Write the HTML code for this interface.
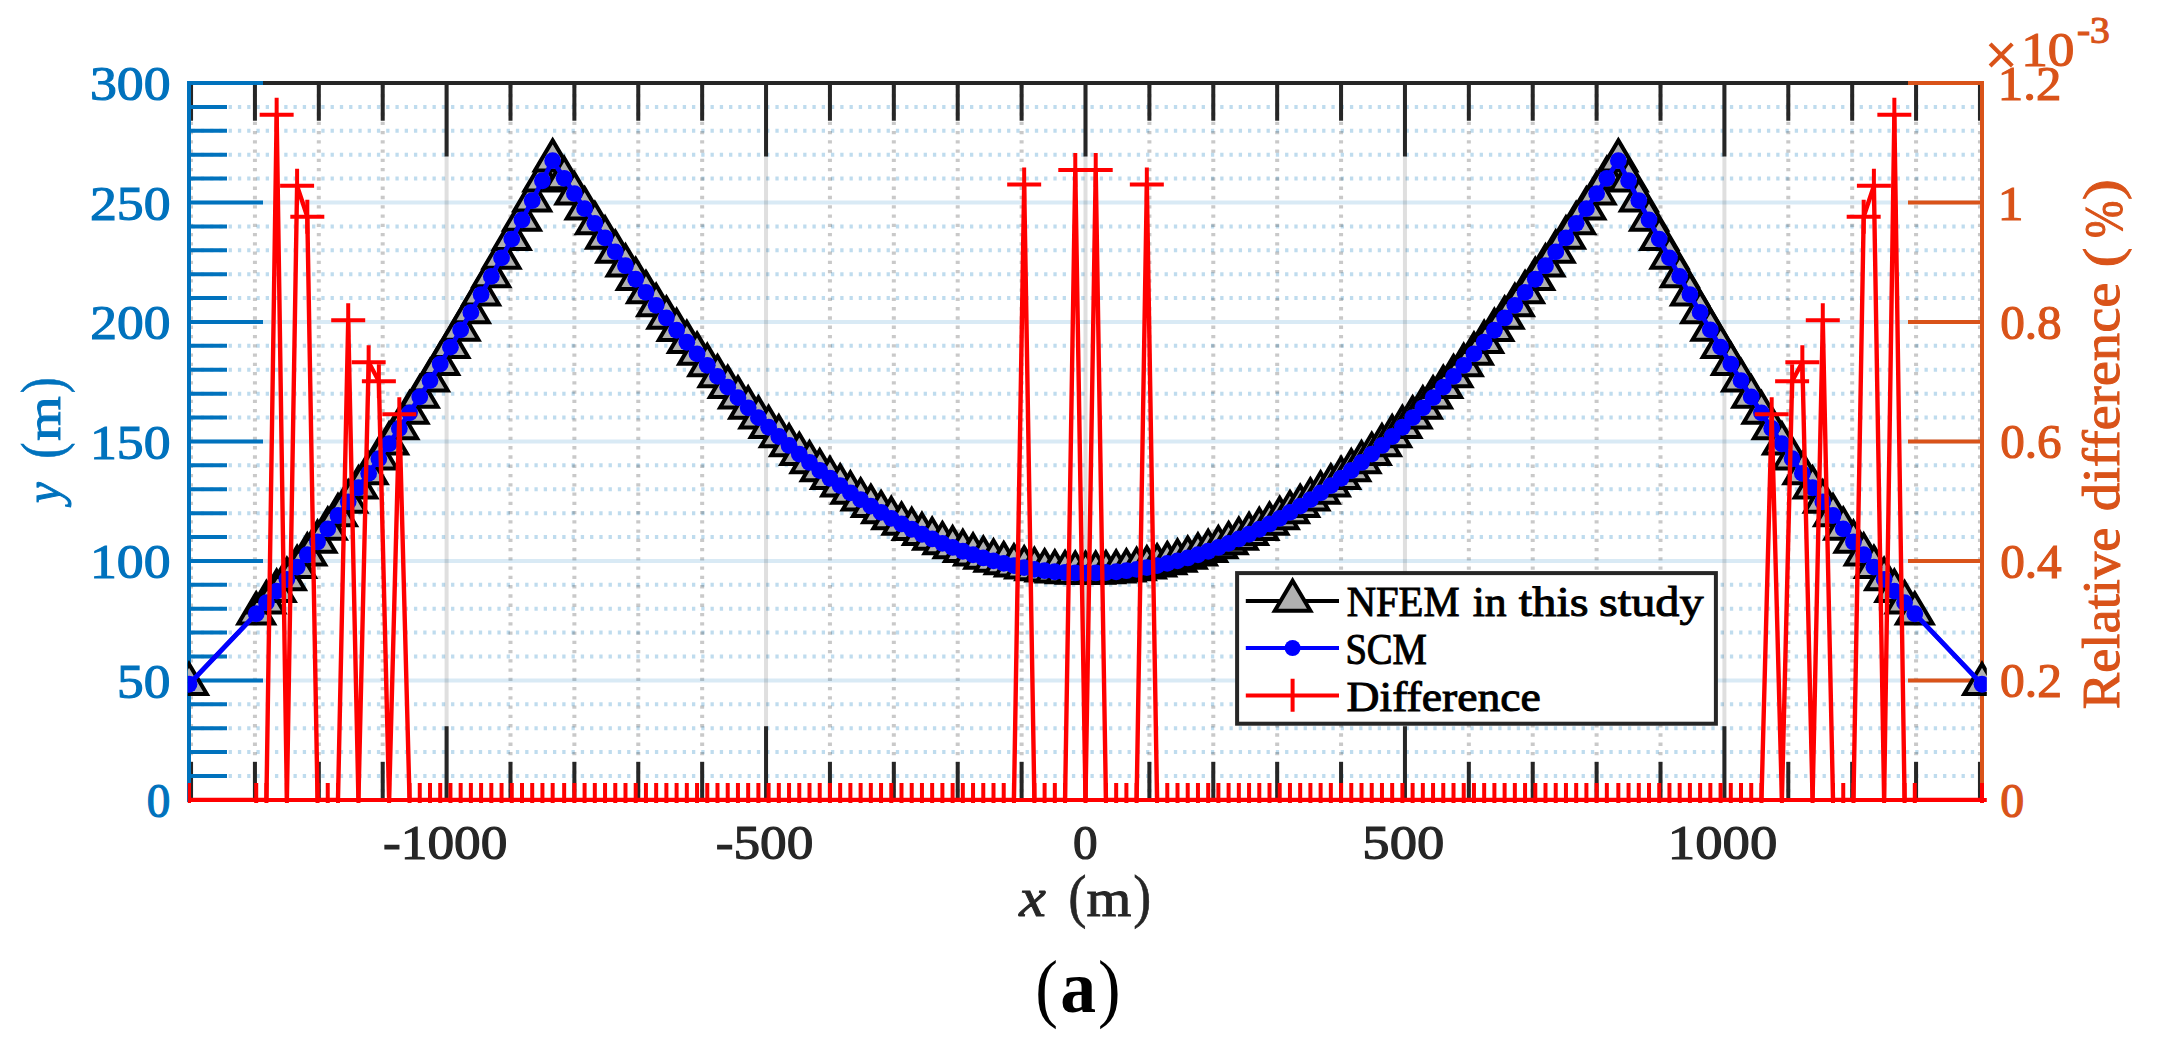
<!DOCTYPE html>
<html lang="en"><head><meta charset="utf-8"><title>Figure (a)</title>
<style>html,body{margin:0;padding:0;background:#fff}svg{display:block}</style></head>
<body>
<svg width="2157" height="1046" viewBox="0 0 2157 1046">
<rect width="2157" height="1046" fill="#fff"/>
<defs><clipPath id="cp"><rect x="187.8" y="80" width="1799" height="723"/></clipPath></defs>
<g stroke="#0072BD" stroke-opacity="0.25" stroke-width="4" stroke-dasharray="3.3 5.967" stroke-dashoffset="6.7" fill="none">
<path d="M189.0 776.00H1982.0"/>
<path d="M189.0 752.11H1982.0"/>
<path d="M189.0 728.21H1982.0"/>
<path d="M189.0 704.31H1982.0"/>
<path d="M189.0 656.52H1982.0"/>
<path d="M189.0 632.62H1982.0"/>
<path d="M189.0 608.73H1982.0"/>
<path d="M189.0 584.83H1982.0"/>
<path d="M189.0 537.04H1982.0"/>
<path d="M189.0 513.14H1982.0"/>
<path d="M189.0 489.24H1982.0"/>
<path d="M189.0 465.35H1982.0"/>
<path d="M189.0 417.55H1982.0"/>
<path d="M189.0 393.66H1982.0"/>
<path d="M189.0 369.76H1982.0"/>
<path d="M189.0 345.86H1982.0"/>
<path d="M189.0 298.07H1982.0"/>
<path d="M189.0 274.17H1982.0"/>
<path d="M189.0 250.28H1982.0"/>
<path d="M189.0 226.38H1982.0"/>
<path d="M189.0 178.59H1982.0"/>
<path d="M189.0 154.69H1982.0"/>
<path d="M189.0 130.79H1982.0"/>
<path d="M189.0 106.90H1982.0"/>
</g>
<g stroke="#262626" stroke-opacity="0.25" stroke-width="4" stroke-dasharray="3.3 5.967" stroke-dashoffset="7.6" fill="none">
<path d="M191.04 83.0V799.9"/>
<path d="M254.93 83.0V799.9"/>
<path d="M318.82 83.0V799.9"/>
<path d="M382.71 83.0V799.9"/>
<path d="M510.49 83.0V799.9"/>
<path d="M574.38 83.0V799.9"/>
<path d="M638.27 83.0V799.9"/>
<path d="M702.16 83.0V799.9"/>
<path d="M829.94 83.0V799.9"/>
<path d="M893.83 83.0V799.9"/>
<path d="M957.72 83.0V799.9"/>
<path d="M1021.61 83.0V799.9"/>
<path d="M1149.39 83.0V799.9"/>
<path d="M1213.28 83.0V799.9"/>
<path d="M1277.17 83.0V799.9"/>
<path d="M1341.06 83.0V799.9"/>
<path d="M1468.84 83.0V799.9"/>
<path d="M1532.73 83.0V799.9"/>
<path d="M1596.62 83.0V799.9"/>
<path d="M1660.51 83.0V799.9"/>
<path d="M1788.29 83.0V799.9"/>
<path d="M1852.18 83.0V799.9"/>
<path d="M1916.07 83.0V799.9"/>
<path d="M1979.96 83.0V799.9"/>
</g>
<g stroke="#0072BD" stroke-opacity="0.15" stroke-width="4" fill="none">
<path d="M189.0 680.42H1982.0"/>
<path d="M189.0 560.93H1982.0"/>
<path d="M189.0 441.45H1982.0"/>
<path d="M189.0 321.97H1982.0"/>
<path d="M189.0 202.48H1982.0"/>
</g>
<g stroke="#262626" stroke-opacity="0.15" stroke-width="4" fill="none">
<path d="M446.60 83.0V799.9"/>
<path d="M766.05 83.0V799.9"/>
<path d="M1085.50 83.0V799.9"/>
<path d="M1404.95 83.0V799.9"/>
<path d="M1724.40 83.0V799.9"/>
</g>
<g stroke="#262626" stroke-width="4" fill="none">
<path d="M191.04 83.0v37.8M191.04 799.9v-37.8"/>
<path d="M254.93 83.0v37.8M254.93 799.9v-37.8"/>
<path d="M318.82 83.0v37.8M318.82 799.9v-37.8"/>
<path d="M382.71 83.0v37.8M382.71 799.9v-37.8"/>
<path d="M446.60 83.0v73.6M446.60 799.9v-73.6"/>
<path d="M510.49 83.0v37.8M510.49 799.9v-37.8"/>
<path d="M574.38 83.0v37.8M574.38 799.9v-37.8"/>
<path d="M638.27 83.0v37.8M638.27 799.9v-37.8"/>
<path d="M702.16 83.0v37.8M702.16 799.9v-37.8"/>
<path d="M766.05 83.0v73.6M766.05 799.9v-73.6"/>
<path d="M829.94 83.0v37.8M829.94 799.9v-37.8"/>
<path d="M893.83 83.0v37.8M893.83 799.9v-37.8"/>
<path d="M957.72 83.0v37.8M957.72 799.9v-37.8"/>
<path d="M1021.61 83.0v37.8M1021.61 799.9v-37.8"/>
<path d="M1085.50 83.0v73.6M1085.50 799.9v-73.6"/>
<path d="M1149.39 83.0v37.8M1149.39 799.9v-37.8"/>
<path d="M1213.28 83.0v37.8M1213.28 799.9v-37.8"/>
<path d="M1277.17 83.0v37.8M1277.17 799.9v-37.8"/>
<path d="M1341.06 83.0v37.8M1341.06 799.9v-37.8"/>
<path d="M1404.95 83.0v73.6M1404.95 799.9v-73.6"/>
<path d="M1468.84 83.0v37.8M1468.84 799.9v-37.8"/>
<path d="M1532.73 83.0v37.8M1532.73 799.9v-37.8"/>
<path d="M1596.62 83.0v37.8M1596.62 799.9v-37.8"/>
<path d="M1660.51 83.0v37.8M1660.51 799.9v-37.8"/>
<path d="M1724.40 83.0v73.6M1724.40 799.9v-73.6"/>
<path d="M1788.29 83.0v37.8M1788.29 799.9v-37.8"/>
<path d="M1852.18 83.0v37.8M1852.18 799.9v-37.8"/>
<path d="M1916.07 83.0v37.8M1916.07 799.9v-37.8"/>
<path d="M1979.96 83.0v37.8M1979.96 799.9v-37.8"/>
<path d="M187.0 83.0H1984.0M187.0 799.9H1984.0"/>
</g>
<g stroke="#0072BD" stroke-width="4" fill="none">
<path d="M189.0 799.90h74"/>
<path d="M189.0 776.00h38"/>
<path d="M189.0 752.11h38"/>
<path d="M189.0 728.21h38"/>
<path d="M189.0 704.31h38"/>
<path d="M189.0 680.42h74"/>
<path d="M189.0 656.52h38"/>
<path d="M189.0 632.62h38"/>
<path d="M189.0 608.73h38"/>
<path d="M189.0 584.83h38"/>
<path d="M189.0 560.93h74"/>
<path d="M189.0 537.04h38"/>
<path d="M189.0 513.14h38"/>
<path d="M189.0 489.24h38"/>
<path d="M189.0 465.35h38"/>
<path d="M189.0 441.45h74"/>
<path d="M189.0 417.55h38"/>
<path d="M189.0 393.66h38"/>
<path d="M189.0 369.76h38"/>
<path d="M189.0 345.86h38"/>
<path d="M189.0 321.97h74"/>
<path d="M189.0 298.07h38"/>
<path d="M189.0 274.17h38"/>
<path d="M189.0 250.28h38"/>
<path d="M189.0 226.38h38"/>
<path d="M189.0 202.48h74"/>
<path d="M189.0 178.59h38"/>
<path d="M189.0 154.69h38"/>
<path d="M189.0 130.79h38"/>
<path d="M189.0 106.90h38"/>
<path d="M189.0 83.00h74"/>
<path d="M189.0 81.0V801.9"/>
</g>
<g stroke="#D95319" stroke-width="4" fill="none">
<path d="M1982.0 799.90h-74"/>
<path d="M1982.0 680.42h-74"/>
<path d="M1982.0 560.93h-74"/>
<path d="M1982.0 441.45h-74"/>
<path d="M1982.0 321.97h-74"/>
<path d="M1982.0 202.48h-74"/>
<path d="M1982.0 83.00h-74"/>
<path d="M1982.0 81.0V801.9"/>
</g>
<g clip-path="url(#cp)">
<path fill="none" stroke="#000" stroke-width="4" stroke-linejoin="round" d="M189.00 684.24L256.21 613.74L266.43 602.58L276.65 591.09L286.88 579.29L297.10 567.17L307.32 554.73L317.54 541.97L327.76 528.89L337.99 515.50L348.21 501.78L358.43 487.75L368.65 473.40L378.88 458.73L389.10 443.75L399.32 428.44L409.54 412.82L419.77 396.88L429.99 380.62L440.21 364.04L450.43 347.15L460.66 329.93L470.88 312.40L481.10 294.55L491.32 276.38L501.55 257.90L511.77 239.09L521.99 219.97L532.21 200.53L542.43 180.77L552.66 160.66L564.16 178.28L574.38 193.61L584.60 208.64L594.82 223.36L605.05 237.78L615.27 251.90L625.49 265.72L635.71 279.23L645.94 292.43L656.16 305.34L666.38 317.94L676.60 330.23L686.83 342.23L697.05 353.91L707.27 365.30L717.49 376.38L727.72 387.16L737.94 397.63L748.16 407.81L758.38 417.67L768.61 427.24L778.83 436.50L789.05 445.45L799.27 454.11L809.50 462.45L819.72 470.50L829.94 478.24L840.16 485.68L850.38 492.82L860.61 499.65L870.83 506.17L881.05 512.40L891.27 518.32L901.50 523.94L911.72 529.25L921.94 534.26L932.16 538.96L942.39 543.37L952.61 547.47L962.83 551.26L973.05 554.75L983.28 557.94L993.50 560.82L1003.72 563.41L1013.94 565.68L1024.17 567.66L1034.39 569.33L1044.61 570.69L1054.83 571.75L1065.06 572.51L1075.28 572.97L1085.50 573.12L1095.72 572.97L1105.94 572.51L1116.17 571.75L1126.39 570.69L1136.61 569.33L1146.83 567.66L1157.06 565.68L1167.28 563.41L1177.50 560.82L1187.72 557.94L1197.95 554.75L1208.17 551.26L1218.39 547.47L1228.61 543.37L1238.84 538.96L1249.06 534.26L1259.28 529.25L1269.50 523.94L1279.73 518.32L1289.95 512.40L1300.17 506.17L1310.39 499.65L1320.62 492.82L1330.84 485.68L1341.06 478.24L1351.28 470.50L1361.50 462.45L1371.73 454.11L1381.95 445.45L1392.17 436.50L1402.39 427.24L1412.62 417.67L1422.84 407.81L1433.06 397.63L1443.28 387.16L1453.51 376.38L1463.73 365.30L1473.95 353.91L1484.17 342.23L1494.40 330.23L1504.62 317.94L1514.84 305.34L1525.06 292.43L1535.29 279.23L1545.51 265.72L1555.73 251.90L1565.95 237.78L1576.18 223.36L1586.40 208.64L1596.62 193.61L1606.84 178.28L1618.34 160.66L1628.57 180.77L1638.79 200.53L1649.01 219.97L1659.23 239.09L1669.45 257.90L1679.68 276.38L1689.90 294.55L1700.12 312.40L1710.34 329.93L1720.57 347.15L1730.79 364.04L1741.01 380.62L1751.23 396.88L1761.46 412.82L1771.68 428.44L1781.90 443.75L1792.12 458.73L1802.35 473.40L1812.57 487.75L1822.79 501.78L1833.01 515.50L1843.24 528.89L1853.46 541.97L1863.68 554.73L1873.90 567.17L1884.12 579.29L1894.35 591.09L1904.57 602.58L1914.79 613.74L1982.00 684.24"/>
<defs><path id="tri" d="M0 -20.3L17.8 9.85H-17.8Z" fill="#B0B0B0" stroke="#000" stroke-width="4" stroke-linejoin="miter"/>
<path id="pl" d="M-17 0H17M0 -17V17" stroke="#f00" stroke-width="4" fill="none"/></defs>
<use href="#tri" x="189.00" y="684.24"/>
<use href="#tri" x="256.21" y="613.74"/>
<use href="#tri" x="266.43" y="602.58"/>
<use href="#tri" x="276.65" y="591.09"/>
<use href="#tri" x="286.88" y="579.29"/>
<use href="#tri" x="297.10" y="567.17"/>
<use href="#tri" x="307.32" y="554.73"/>
<use href="#tri" x="317.54" y="541.97"/>
<use href="#tri" x="327.76" y="528.89"/>
<use href="#tri" x="337.99" y="515.50"/>
<use href="#tri" x="348.21" y="501.78"/>
<use href="#tri" x="358.43" y="487.75"/>
<use href="#tri" x="368.65" y="473.40"/>
<use href="#tri" x="378.88" y="458.73"/>
<use href="#tri" x="389.10" y="443.75"/>
<use href="#tri" x="399.32" y="428.44"/>
<use href="#tri" x="409.54" y="412.82"/>
<use href="#tri" x="419.77" y="396.88"/>
<use href="#tri" x="429.99" y="380.62"/>
<use href="#tri" x="440.21" y="364.04"/>
<use href="#tri" x="450.43" y="347.15"/>
<use href="#tri" x="460.66" y="329.93"/>
<use href="#tri" x="470.88" y="312.40"/>
<use href="#tri" x="481.10" y="294.55"/>
<use href="#tri" x="491.32" y="276.38"/>
<use href="#tri" x="501.55" y="257.90"/>
<use href="#tri" x="511.77" y="239.09"/>
<use href="#tri" x="521.99" y="219.97"/>
<use href="#tri" x="532.21" y="200.53"/>
<use href="#tri" x="542.43" y="180.77"/>
<use href="#tri" x="552.66" y="160.66"/>
<use href="#tri" x="564.16" y="178.28"/>
<use href="#tri" x="574.38" y="193.61"/>
<use href="#tri" x="584.60" y="208.64"/>
<use href="#tri" x="594.82" y="223.36"/>
<use href="#tri" x="605.05" y="237.78"/>
<use href="#tri" x="615.27" y="251.90"/>
<use href="#tri" x="625.49" y="265.72"/>
<use href="#tri" x="635.71" y="279.23"/>
<use href="#tri" x="645.94" y="292.43"/>
<use href="#tri" x="656.16" y="305.34"/>
<use href="#tri" x="666.38" y="317.94"/>
<use href="#tri" x="676.60" y="330.23"/>
<use href="#tri" x="686.83" y="342.23"/>
<use href="#tri" x="697.05" y="353.91"/>
<use href="#tri" x="707.27" y="365.30"/>
<use href="#tri" x="717.49" y="376.38"/>
<use href="#tri" x="727.72" y="387.16"/>
<use href="#tri" x="737.94" y="397.63"/>
<use href="#tri" x="748.16" y="407.81"/>
<use href="#tri" x="758.38" y="417.67"/>
<use href="#tri" x="768.61" y="427.24"/>
<use href="#tri" x="778.83" y="436.50"/>
<use href="#tri" x="789.05" y="445.45"/>
<use href="#tri" x="799.27" y="454.11"/>
<use href="#tri" x="809.50" y="462.45"/>
<use href="#tri" x="819.72" y="470.50"/>
<use href="#tri" x="829.94" y="478.24"/>
<use href="#tri" x="840.16" y="485.68"/>
<use href="#tri" x="850.38" y="492.82"/>
<use href="#tri" x="860.61" y="499.65"/>
<use href="#tri" x="870.83" y="506.17"/>
<use href="#tri" x="881.05" y="512.40"/>
<use href="#tri" x="891.27" y="518.32"/>
<use href="#tri" x="901.50" y="523.94"/>
<use href="#tri" x="911.72" y="529.25"/>
<use href="#tri" x="921.94" y="534.26"/>
<use href="#tri" x="932.16" y="538.96"/>
<use href="#tri" x="942.39" y="543.37"/>
<use href="#tri" x="952.61" y="547.47"/>
<use href="#tri" x="962.83" y="551.26"/>
<use href="#tri" x="973.05" y="554.75"/>
<use href="#tri" x="983.28" y="557.94"/>
<use href="#tri" x="993.50" y="560.82"/>
<use href="#tri" x="1003.72" y="563.41"/>
<use href="#tri" x="1013.94" y="565.68"/>
<use href="#tri" x="1024.17" y="567.66"/>
<use href="#tri" x="1034.39" y="569.33"/>
<use href="#tri" x="1044.61" y="570.69"/>
<use href="#tri" x="1054.83" y="571.75"/>
<use href="#tri" x="1065.06" y="572.51"/>
<use href="#tri" x="1075.28" y="572.97"/>
<use href="#tri" x="1085.50" y="573.12"/>
<use href="#tri" x="1095.72" y="572.97"/>
<use href="#tri" x="1105.94" y="572.51"/>
<use href="#tri" x="1116.17" y="571.75"/>
<use href="#tri" x="1126.39" y="570.69"/>
<use href="#tri" x="1136.61" y="569.33"/>
<use href="#tri" x="1146.83" y="567.66"/>
<use href="#tri" x="1157.06" y="565.68"/>
<use href="#tri" x="1167.28" y="563.41"/>
<use href="#tri" x="1177.50" y="560.82"/>
<use href="#tri" x="1187.72" y="557.94"/>
<use href="#tri" x="1197.95" y="554.75"/>
<use href="#tri" x="1208.17" y="551.26"/>
<use href="#tri" x="1218.39" y="547.47"/>
<use href="#tri" x="1228.61" y="543.37"/>
<use href="#tri" x="1238.84" y="538.96"/>
<use href="#tri" x="1249.06" y="534.26"/>
<use href="#tri" x="1259.28" y="529.25"/>
<use href="#tri" x="1269.50" y="523.94"/>
<use href="#tri" x="1279.73" y="518.32"/>
<use href="#tri" x="1289.95" y="512.40"/>
<use href="#tri" x="1300.17" y="506.17"/>
<use href="#tri" x="1310.39" y="499.65"/>
<use href="#tri" x="1320.62" y="492.82"/>
<use href="#tri" x="1330.84" y="485.68"/>
<use href="#tri" x="1341.06" y="478.24"/>
<use href="#tri" x="1351.28" y="470.50"/>
<use href="#tri" x="1361.50" y="462.45"/>
<use href="#tri" x="1371.73" y="454.11"/>
<use href="#tri" x="1381.95" y="445.45"/>
<use href="#tri" x="1392.17" y="436.50"/>
<use href="#tri" x="1402.39" y="427.24"/>
<use href="#tri" x="1412.62" y="417.67"/>
<use href="#tri" x="1422.84" y="407.81"/>
<use href="#tri" x="1433.06" y="397.63"/>
<use href="#tri" x="1443.28" y="387.16"/>
<use href="#tri" x="1453.51" y="376.38"/>
<use href="#tri" x="1463.73" y="365.30"/>
<use href="#tri" x="1473.95" y="353.91"/>
<use href="#tri" x="1484.17" y="342.23"/>
<use href="#tri" x="1494.40" y="330.23"/>
<use href="#tri" x="1504.62" y="317.94"/>
<use href="#tri" x="1514.84" y="305.34"/>
<use href="#tri" x="1525.06" y="292.43"/>
<use href="#tri" x="1535.29" y="279.23"/>
<use href="#tri" x="1545.51" y="265.72"/>
<use href="#tri" x="1555.73" y="251.90"/>
<use href="#tri" x="1565.95" y="237.78"/>
<use href="#tri" x="1576.18" y="223.36"/>
<use href="#tri" x="1586.40" y="208.64"/>
<use href="#tri" x="1596.62" y="193.61"/>
<use href="#tri" x="1606.84" y="178.28"/>
<use href="#tri" x="1618.34" y="160.66"/>
<use href="#tri" x="1628.57" y="180.77"/>
<use href="#tri" x="1638.79" y="200.53"/>
<use href="#tri" x="1649.01" y="219.97"/>
<use href="#tri" x="1659.23" y="239.09"/>
<use href="#tri" x="1669.45" y="257.90"/>
<use href="#tri" x="1679.68" y="276.38"/>
<use href="#tri" x="1689.90" y="294.55"/>
<use href="#tri" x="1700.12" y="312.40"/>
<use href="#tri" x="1710.34" y="329.93"/>
<use href="#tri" x="1720.57" y="347.15"/>
<use href="#tri" x="1730.79" y="364.04"/>
<use href="#tri" x="1741.01" y="380.62"/>
<use href="#tri" x="1751.23" y="396.88"/>
<use href="#tri" x="1761.46" y="412.82"/>
<use href="#tri" x="1771.68" y="428.44"/>
<use href="#tri" x="1781.90" y="443.75"/>
<use href="#tri" x="1792.12" y="458.73"/>
<use href="#tri" x="1802.35" y="473.40"/>
<use href="#tri" x="1812.57" y="487.75"/>
<use href="#tri" x="1822.79" y="501.78"/>
<use href="#tri" x="1833.01" y="515.50"/>
<use href="#tri" x="1843.24" y="528.89"/>
<use href="#tri" x="1853.46" y="541.97"/>
<use href="#tri" x="1863.68" y="554.73"/>
<use href="#tri" x="1873.90" y="567.17"/>
<use href="#tri" x="1884.12" y="579.29"/>
<use href="#tri" x="1894.35" y="591.09"/>
<use href="#tri" x="1904.57" y="602.58"/>
<use href="#tri" x="1914.79" y="613.74"/>
<use href="#tri" x="1982.00" y="684.24"/>
<path fill="none" stroke="#00f" stroke-width="4.8" stroke-linejoin="round" d="M189.00 684.24L256.21 613.74L266.43 602.58L276.65 591.09L286.88 579.29L297.10 567.17L307.32 554.73L317.54 541.97L327.76 528.89L337.99 515.50L348.21 501.78L358.43 487.75L368.65 473.40L378.88 458.73L389.10 443.75L399.32 428.44L409.54 412.82L419.77 396.88L429.99 380.62L440.21 364.04L450.43 347.15L460.66 329.93L470.88 312.40L481.10 294.55L491.32 276.38L501.55 257.90L511.77 239.09L521.99 219.97L532.21 200.53L542.43 180.77L552.66 160.66L564.16 178.28L574.38 193.61L584.60 208.64L594.82 223.36L605.05 237.78L615.27 251.90L625.49 265.72L635.71 279.23L645.94 292.43L656.16 305.34L666.38 317.94L676.60 330.23L686.83 342.23L697.05 353.91L707.27 365.30L717.49 376.38L727.72 387.16L737.94 397.63L748.16 407.81L758.38 417.67L768.61 427.24L778.83 436.50L789.05 445.45L799.27 454.11L809.50 462.45L819.72 470.50L829.94 478.24L840.16 485.68L850.38 492.82L860.61 499.65L870.83 506.17L881.05 512.40L891.27 518.32L901.50 523.94L911.72 529.25L921.94 534.26L932.16 538.96L942.39 543.37L952.61 547.47L962.83 551.26L973.05 554.75L983.28 557.94L993.50 560.82L1003.72 563.41L1013.94 565.68L1024.17 567.66L1034.39 569.33L1044.61 570.69L1054.83 571.75L1065.06 572.51L1075.28 572.97L1085.50 573.12L1095.72 572.97L1105.94 572.51L1116.17 571.75L1126.39 570.69L1136.61 569.33L1146.83 567.66L1157.06 565.68L1167.28 563.41L1177.50 560.82L1187.72 557.94L1197.95 554.75L1208.17 551.26L1218.39 547.47L1228.61 543.37L1238.84 538.96L1249.06 534.26L1259.28 529.25L1269.50 523.94L1279.73 518.32L1289.95 512.40L1300.17 506.17L1310.39 499.65L1320.62 492.82L1330.84 485.68L1341.06 478.24L1351.28 470.50L1361.50 462.45L1371.73 454.11L1381.95 445.45L1392.17 436.50L1402.39 427.24L1412.62 417.67L1422.84 407.81L1433.06 397.63L1443.28 387.16L1453.51 376.38L1463.73 365.30L1473.95 353.91L1484.17 342.23L1494.40 330.23L1504.62 317.94L1514.84 305.34L1525.06 292.43L1535.29 279.23L1545.51 265.72L1555.73 251.90L1565.95 237.78L1576.18 223.36L1586.40 208.64L1596.62 193.61L1606.84 178.28L1618.34 160.66L1628.57 180.77L1638.79 200.53L1649.01 219.97L1659.23 239.09L1669.45 257.90L1679.68 276.38L1689.90 294.55L1700.12 312.40L1710.34 329.93L1720.57 347.15L1730.79 364.04L1741.01 380.62L1751.23 396.88L1761.46 412.82L1771.68 428.44L1781.90 443.75L1792.12 458.73L1802.35 473.40L1812.57 487.75L1822.79 501.78L1833.01 515.50L1843.24 528.89L1853.46 541.97L1863.68 554.73L1873.90 567.17L1884.12 579.29L1894.35 591.09L1904.57 602.58L1914.79 613.74L1982.00 684.24"/>
<g fill="#00f">
<circle cx="189.00" cy="684.24" r="8.4"/>
<circle cx="256.21" cy="613.74" r="8.4"/>
<circle cx="266.43" cy="602.58" r="8.4"/>
<circle cx="276.65" cy="591.09" r="8.4"/>
<circle cx="286.88" cy="579.29" r="8.4"/>
<circle cx="297.10" cy="567.17" r="8.4"/>
<circle cx="307.32" cy="554.73" r="8.4"/>
<circle cx="317.54" cy="541.97" r="8.4"/>
<circle cx="327.76" cy="528.89" r="8.4"/>
<circle cx="337.99" cy="515.50" r="8.4"/>
<circle cx="348.21" cy="501.78" r="8.4"/>
<circle cx="358.43" cy="487.75" r="8.4"/>
<circle cx="368.65" cy="473.40" r="8.4"/>
<circle cx="378.88" cy="458.73" r="8.4"/>
<circle cx="389.10" cy="443.75" r="8.4"/>
<circle cx="399.32" cy="428.44" r="8.4"/>
<circle cx="409.54" cy="412.82" r="8.4"/>
<circle cx="419.77" cy="396.88" r="8.4"/>
<circle cx="429.99" cy="380.62" r="8.4"/>
<circle cx="440.21" cy="364.04" r="8.4"/>
<circle cx="450.43" cy="347.15" r="8.4"/>
<circle cx="460.66" cy="329.93" r="8.4"/>
<circle cx="470.88" cy="312.40" r="8.4"/>
<circle cx="481.10" cy="294.55" r="8.4"/>
<circle cx="491.32" cy="276.38" r="8.4"/>
<circle cx="501.55" cy="257.90" r="8.4"/>
<circle cx="511.77" cy="239.09" r="8.4"/>
<circle cx="521.99" cy="219.97" r="8.4"/>
<circle cx="532.21" cy="200.53" r="8.4"/>
<circle cx="542.43" cy="180.77" r="8.4"/>
<circle cx="552.66" cy="160.66" r="8.4"/>
<circle cx="564.16" cy="178.28" r="8.4"/>
<circle cx="574.38" cy="193.61" r="8.4"/>
<circle cx="584.60" cy="208.64" r="8.4"/>
<circle cx="594.82" cy="223.36" r="8.4"/>
<circle cx="605.05" cy="237.78" r="8.4"/>
<circle cx="615.27" cy="251.90" r="8.4"/>
<circle cx="625.49" cy="265.72" r="8.4"/>
<circle cx="635.71" cy="279.23" r="8.4"/>
<circle cx="645.94" cy="292.43" r="8.4"/>
<circle cx="656.16" cy="305.34" r="8.4"/>
<circle cx="666.38" cy="317.94" r="8.4"/>
<circle cx="676.60" cy="330.23" r="8.4"/>
<circle cx="686.83" cy="342.23" r="8.4"/>
<circle cx="697.05" cy="353.91" r="8.4"/>
<circle cx="707.27" cy="365.30" r="8.4"/>
<circle cx="717.49" cy="376.38" r="8.4"/>
<circle cx="727.72" cy="387.16" r="8.4"/>
<circle cx="737.94" cy="397.63" r="8.4"/>
<circle cx="748.16" cy="407.81" r="8.4"/>
<circle cx="758.38" cy="417.67" r="8.4"/>
<circle cx="768.61" cy="427.24" r="8.4"/>
<circle cx="778.83" cy="436.50" r="8.4"/>
<circle cx="789.05" cy="445.45" r="8.4"/>
<circle cx="799.27" cy="454.11" r="8.4"/>
<circle cx="809.50" cy="462.45" r="8.4"/>
<circle cx="819.72" cy="470.50" r="8.4"/>
<circle cx="829.94" cy="478.24" r="8.4"/>
<circle cx="840.16" cy="485.68" r="8.4"/>
<circle cx="850.38" cy="492.82" r="8.4"/>
<circle cx="860.61" cy="499.65" r="8.4"/>
<circle cx="870.83" cy="506.17" r="8.4"/>
<circle cx="881.05" cy="512.40" r="8.4"/>
<circle cx="891.27" cy="518.32" r="8.4"/>
<circle cx="901.50" cy="523.94" r="8.4"/>
<circle cx="911.72" cy="529.25" r="8.4"/>
<circle cx="921.94" cy="534.26" r="8.4"/>
<circle cx="932.16" cy="538.96" r="8.4"/>
<circle cx="942.39" cy="543.37" r="8.4"/>
<circle cx="952.61" cy="547.47" r="8.4"/>
<circle cx="962.83" cy="551.26" r="8.4"/>
<circle cx="973.05" cy="554.75" r="8.4"/>
<circle cx="983.28" cy="557.94" r="8.4"/>
<circle cx="993.50" cy="560.82" r="8.4"/>
<circle cx="1003.72" cy="563.41" r="8.4"/>
<circle cx="1013.94" cy="565.68" r="8.4"/>
<circle cx="1024.17" cy="567.66" r="8.4"/>
<circle cx="1034.39" cy="569.33" r="8.4"/>
<circle cx="1044.61" cy="570.69" r="8.4"/>
<circle cx="1054.83" cy="571.75" r="8.4"/>
<circle cx="1065.06" cy="572.51" r="8.4"/>
<circle cx="1075.28" cy="572.97" r="8.4"/>
<circle cx="1085.50" cy="573.12" r="8.4"/>
<circle cx="1095.72" cy="572.97" r="8.4"/>
<circle cx="1105.94" cy="572.51" r="8.4"/>
<circle cx="1116.17" cy="571.75" r="8.4"/>
<circle cx="1126.39" cy="570.69" r="8.4"/>
<circle cx="1136.61" cy="569.33" r="8.4"/>
<circle cx="1146.83" cy="567.66" r="8.4"/>
<circle cx="1157.06" cy="565.68" r="8.4"/>
<circle cx="1167.28" cy="563.41" r="8.4"/>
<circle cx="1177.50" cy="560.82" r="8.4"/>
<circle cx="1187.72" cy="557.94" r="8.4"/>
<circle cx="1197.95" cy="554.75" r="8.4"/>
<circle cx="1208.17" cy="551.26" r="8.4"/>
<circle cx="1218.39" cy="547.47" r="8.4"/>
<circle cx="1228.61" cy="543.37" r="8.4"/>
<circle cx="1238.84" cy="538.96" r="8.4"/>
<circle cx="1249.06" cy="534.26" r="8.4"/>
<circle cx="1259.28" cy="529.25" r="8.4"/>
<circle cx="1269.50" cy="523.94" r="8.4"/>
<circle cx="1279.73" cy="518.32" r="8.4"/>
<circle cx="1289.95" cy="512.40" r="8.4"/>
<circle cx="1300.17" cy="506.17" r="8.4"/>
<circle cx="1310.39" cy="499.65" r="8.4"/>
<circle cx="1320.62" cy="492.82" r="8.4"/>
<circle cx="1330.84" cy="485.68" r="8.4"/>
<circle cx="1341.06" cy="478.24" r="8.4"/>
<circle cx="1351.28" cy="470.50" r="8.4"/>
<circle cx="1361.50" cy="462.45" r="8.4"/>
<circle cx="1371.73" cy="454.11" r="8.4"/>
<circle cx="1381.95" cy="445.45" r="8.4"/>
<circle cx="1392.17" cy="436.50" r="8.4"/>
<circle cx="1402.39" cy="427.24" r="8.4"/>
<circle cx="1412.62" cy="417.67" r="8.4"/>
<circle cx="1422.84" cy="407.81" r="8.4"/>
<circle cx="1433.06" cy="397.63" r="8.4"/>
<circle cx="1443.28" cy="387.16" r="8.4"/>
<circle cx="1453.51" cy="376.38" r="8.4"/>
<circle cx="1463.73" cy="365.30" r="8.4"/>
<circle cx="1473.95" cy="353.91" r="8.4"/>
<circle cx="1484.17" cy="342.23" r="8.4"/>
<circle cx="1494.40" cy="330.23" r="8.4"/>
<circle cx="1504.62" cy="317.94" r="8.4"/>
<circle cx="1514.84" cy="305.34" r="8.4"/>
<circle cx="1525.06" cy="292.43" r="8.4"/>
<circle cx="1535.29" cy="279.23" r="8.4"/>
<circle cx="1545.51" cy="265.72" r="8.4"/>
<circle cx="1555.73" cy="251.90" r="8.4"/>
<circle cx="1565.95" cy="237.78" r="8.4"/>
<circle cx="1576.18" cy="223.36" r="8.4"/>
<circle cx="1586.40" cy="208.64" r="8.4"/>
<circle cx="1596.62" cy="193.61" r="8.4"/>
<circle cx="1606.84" cy="178.28" r="8.4"/>
<circle cx="1618.34" cy="160.66" r="8.4"/>
<circle cx="1628.57" cy="180.77" r="8.4"/>
<circle cx="1638.79" cy="200.53" r="8.4"/>
<circle cx="1649.01" cy="219.97" r="8.4"/>
<circle cx="1659.23" cy="239.09" r="8.4"/>
<circle cx="1669.45" cy="257.90" r="8.4"/>
<circle cx="1679.68" cy="276.38" r="8.4"/>
<circle cx="1689.90" cy="294.55" r="8.4"/>
<circle cx="1700.12" cy="312.40" r="8.4"/>
<circle cx="1710.34" cy="329.93" r="8.4"/>
<circle cx="1720.57" cy="347.15" r="8.4"/>
<circle cx="1730.79" cy="364.04" r="8.4"/>
<circle cx="1741.01" cy="380.62" r="8.4"/>
<circle cx="1751.23" cy="396.88" r="8.4"/>
<circle cx="1761.46" cy="412.82" r="8.4"/>
<circle cx="1771.68" cy="428.44" r="8.4"/>
<circle cx="1781.90" cy="443.75" r="8.4"/>
<circle cx="1792.12" cy="458.73" r="8.4"/>
<circle cx="1802.35" cy="473.40" r="8.4"/>
<circle cx="1812.57" cy="487.75" r="8.4"/>
<circle cx="1822.79" cy="501.78" r="8.4"/>
<circle cx="1833.01" cy="515.50" r="8.4"/>
<circle cx="1843.24" cy="528.89" r="8.4"/>
<circle cx="1853.46" cy="541.97" r="8.4"/>
<circle cx="1863.68" cy="554.73" r="8.4"/>
<circle cx="1873.90" cy="567.17" r="8.4"/>
<circle cx="1884.12" cy="579.29" r="8.4"/>
<circle cx="1894.35" cy="591.09" r="8.4"/>
<circle cx="1904.57" cy="602.58" r="8.4"/>
<circle cx="1914.79" cy="613.74" r="8.4"/>
<circle cx="1982.00" cy="684.24" r="8.4"/>
</g>
<path fill="none" stroke="#f00" stroke-width="4.4" stroke-linejoin="miter" stroke-miterlimit="2" d="M189.00 799.90L256.21 799.90L266.43 799.90L276.65 114.72L286.88 799.90L297.10 185.82L307.32 216.70L317.54 799.90L327.76 799.90L337.99 799.90L348.21 320.23L358.43 799.90L368.65 362.29L378.88 381.23L389.10 799.90L399.32 414.21L409.54 799.90L419.77 799.90L429.99 799.90L440.21 799.90L450.43 799.90L460.66 799.90L470.88 799.90L481.10 799.90L491.32 799.90L501.55 799.90L511.77 799.90L521.99 799.90L532.21 799.90L542.43 799.90L552.66 799.90L564.16 799.90L574.38 799.90L584.60 799.90L594.82 799.90L605.05 799.90L615.27 799.90L625.49 799.90L635.71 799.90L645.94 799.90L656.16 799.90L666.38 799.90L676.60 799.90L686.83 799.90L697.05 799.90L707.27 799.90L717.49 799.90L727.72 799.90L737.94 799.90L748.16 799.90L758.38 799.90L768.61 799.90L778.83 799.90L789.05 799.90L799.27 799.90L809.50 799.90L819.72 799.90L829.94 799.90L840.16 799.90L850.38 799.90L860.61 799.90L870.83 799.90L881.05 799.90L891.27 799.90L901.50 799.90L911.72 799.90L921.94 799.90L932.16 799.90L942.39 799.90L952.61 799.90L962.83 799.90L973.05 799.90L983.28 799.90L993.50 799.90L1003.72 799.90L1013.94 799.90L1024.17 184.50L1034.39 799.90L1044.61 799.90L1054.83 799.90L1065.06 799.90L1075.28 169.98L1085.50 799.90L1095.72 169.98L1105.94 799.90L1116.17 799.90L1126.39 799.90L1136.61 799.90L1146.83 184.50L1157.06 799.90L1167.28 799.90L1177.50 799.90L1187.72 799.90L1197.95 799.90L1208.17 799.90L1218.39 799.90L1228.61 799.90L1238.84 799.90L1249.06 799.90L1259.28 799.90L1269.50 799.90L1279.73 799.90L1289.95 799.90L1300.17 799.90L1310.39 799.90L1320.62 799.90L1330.84 799.90L1341.06 799.90L1351.28 799.90L1361.50 799.90L1371.73 799.90L1381.95 799.90L1392.17 799.90L1402.39 799.90L1412.62 799.90L1422.84 799.90L1433.06 799.90L1443.28 799.90L1453.51 799.90L1463.73 799.90L1473.95 799.90L1484.17 799.90L1494.40 799.90L1504.62 799.90L1514.84 799.90L1525.06 799.90L1535.29 799.90L1545.51 799.90L1555.73 799.90L1565.95 799.90L1576.18 799.90L1586.40 799.90L1596.62 799.90L1606.84 799.90L1618.34 799.90L1628.57 799.90L1638.79 799.90L1649.01 799.90L1659.23 799.90L1669.45 799.90L1679.68 799.90L1689.90 799.90L1700.12 799.90L1710.34 799.90L1720.57 799.90L1730.79 799.90L1741.01 799.90L1751.23 799.90L1761.46 799.90L1771.68 414.21L1781.90 799.90L1792.12 381.23L1802.35 362.29L1812.57 799.90L1822.79 320.23L1833.01 799.90L1843.24 799.90L1853.46 799.90L1863.68 216.70L1873.90 185.82L1884.12 799.90L1894.35 114.72L1904.57 799.90L1914.79 799.90L1982.00 799.90"/>
<use href="#pl" x="189.00" y="799.90"/>
<use href="#pl" x="256.21" y="799.90"/>
<use href="#pl" x="266.43" y="799.90"/>
<use href="#pl" x="276.65" y="114.72"/>
<use href="#pl" x="286.88" y="799.90"/>
<use href="#pl" x="297.10" y="185.82"/>
<use href="#pl" x="307.32" y="216.70"/>
<use href="#pl" x="317.54" y="799.90"/>
<use href="#pl" x="327.76" y="799.90"/>
<use href="#pl" x="337.99" y="799.90"/>
<use href="#pl" x="348.21" y="320.23"/>
<use href="#pl" x="358.43" y="799.90"/>
<use href="#pl" x="368.65" y="362.29"/>
<use href="#pl" x="378.88" y="381.23"/>
<use href="#pl" x="389.10" y="799.90"/>
<use href="#pl" x="399.32" y="414.21"/>
<use href="#pl" x="409.54" y="799.90"/>
<use href="#pl" x="419.77" y="799.90"/>
<use href="#pl" x="429.99" y="799.90"/>
<use href="#pl" x="440.21" y="799.90"/>
<use href="#pl" x="450.43" y="799.90"/>
<use href="#pl" x="460.66" y="799.90"/>
<use href="#pl" x="470.88" y="799.90"/>
<use href="#pl" x="481.10" y="799.90"/>
<use href="#pl" x="491.32" y="799.90"/>
<use href="#pl" x="501.55" y="799.90"/>
<use href="#pl" x="511.77" y="799.90"/>
<use href="#pl" x="521.99" y="799.90"/>
<use href="#pl" x="532.21" y="799.90"/>
<use href="#pl" x="542.43" y="799.90"/>
<use href="#pl" x="552.66" y="799.90"/>
<use href="#pl" x="564.16" y="799.90"/>
<use href="#pl" x="574.38" y="799.90"/>
<use href="#pl" x="584.60" y="799.90"/>
<use href="#pl" x="594.82" y="799.90"/>
<use href="#pl" x="605.05" y="799.90"/>
<use href="#pl" x="615.27" y="799.90"/>
<use href="#pl" x="625.49" y="799.90"/>
<use href="#pl" x="635.71" y="799.90"/>
<use href="#pl" x="645.94" y="799.90"/>
<use href="#pl" x="656.16" y="799.90"/>
<use href="#pl" x="666.38" y="799.90"/>
<use href="#pl" x="676.60" y="799.90"/>
<use href="#pl" x="686.83" y="799.90"/>
<use href="#pl" x="697.05" y="799.90"/>
<use href="#pl" x="707.27" y="799.90"/>
<use href="#pl" x="717.49" y="799.90"/>
<use href="#pl" x="727.72" y="799.90"/>
<use href="#pl" x="737.94" y="799.90"/>
<use href="#pl" x="748.16" y="799.90"/>
<use href="#pl" x="758.38" y="799.90"/>
<use href="#pl" x="768.61" y="799.90"/>
<use href="#pl" x="778.83" y="799.90"/>
<use href="#pl" x="789.05" y="799.90"/>
<use href="#pl" x="799.27" y="799.90"/>
<use href="#pl" x="809.50" y="799.90"/>
<use href="#pl" x="819.72" y="799.90"/>
<use href="#pl" x="829.94" y="799.90"/>
<use href="#pl" x="840.16" y="799.90"/>
<use href="#pl" x="850.38" y="799.90"/>
<use href="#pl" x="860.61" y="799.90"/>
<use href="#pl" x="870.83" y="799.90"/>
<use href="#pl" x="881.05" y="799.90"/>
<use href="#pl" x="891.27" y="799.90"/>
<use href="#pl" x="901.50" y="799.90"/>
<use href="#pl" x="911.72" y="799.90"/>
<use href="#pl" x="921.94" y="799.90"/>
<use href="#pl" x="932.16" y="799.90"/>
<use href="#pl" x="942.39" y="799.90"/>
<use href="#pl" x="952.61" y="799.90"/>
<use href="#pl" x="962.83" y="799.90"/>
<use href="#pl" x="973.05" y="799.90"/>
<use href="#pl" x="983.28" y="799.90"/>
<use href="#pl" x="993.50" y="799.90"/>
<use href="#pl" x="1003.72" y="799.90"/>
<use href="#pl" x="1013.94" y="799.90"/>
<use href="#pl" x="1024.17" y="184.50"/>
<use href="#pl" x="1034.39" y="799.90"/>
<use href="#pl" x="1044.61" y="799.90"/>
<use href="#pl" x="1054.83" y="799.90"/>
<use href="#pl" x="1065.06" y="799.90"/>
<use href="#pl" x="1075.28" y="169.98"/>
<use href="#pl" x="1085.50" y="799.90"/>
<use href="#pl" x="1095.72" y="169.98"/>
<use href="#pl" x="1105.94" y="799.90"/>
<use href="#pl" x="1116.17" y="799.90"/>
<use href="#pl" x="1126.39" y="799.90"/>
<use href="#pl" x="1136.61" y="799.90"/>
<use href="#pl" x="1146.83" y="184.50"/>
<use href="#pl" x="1157.06" y="799.90"/>
<use href="#pl" x="1167.28" y="799.90"/>
<use href="#pl" x="1177.50" y="799.90"/>
<use href="#pl" x="1187.72" y="799.90"/>
<use href="#pl" x="1197.95" y="799.90"/>
<use href="#pl" x="1208.17" y="799.90"/>
<use href="#pl" x="1218.39" y="799.90"/>
<use href="#pl" x="1228.61" y="799.90"/>
<use href="#pl" x="1238.84" y="799.90"/>
<use href="#pl" x="1249.06" y="799.90"/>
<use href="#pl" x="1259.28" y="799.90"/>
<use href="#pl" x="1269.50" y="799.90"/>
<use href="#pl" x="1279.73" y="799.90"/>
<use href="#pl" x="1289.95" y="799.90"/>
<use href="#pl" x="1300.17" y="799.90"/>
<use href="#pl" x="1310.39" y="799.90"/>
<use href="#pl" x="1320.62" y="799.90"/>
<use href="#pl" x="1330.84" y="799.90"/>
<use href="#pl" x="1341.06" y="799.90"/>
<use href="#pl" x="1351.28" y="799.90"/>
<use href="#pl" x="1361.50" y="799.90"/>
<use href="#pl" x="1371.73" y="799.90"/>
<use href="#pl" x="1381.95" y="799.90"/>
<use href="#pl" x="1392.17" y="799.90"/>
<use href="#pl" x="1402.39" y="799.90"/>
<use href="#pl" x="1412.62" y="799.90"/>
<use href="#pl" x="1422.84" y="799.90"/>
<use href="#pl" x="1433.06" y="799.90"/>
<use href="#pl" x="1443.28" y="799.90"/>
<use href="#pl" x="1453.51" y="799.90"/>
<use href="#pl" x="1463.73" y="799.90"/>
<use href="#pl" x="1473.95" y="799.90"/>
<use href="#pl" x="1484.17" y="799.90"/>
<use href="#pl" x="1494.40" y="799.90"/>
<use href="#pl" x="1504.62" y="799.90"/>
<use href="#pl" x="1514.84" y="799.90"/>
<use href="#pl" x="1525.06" y="799.90"/>
<use href="#pl" x="1535.29" y="799.90"/>
<use href="#pl" x="1545.51" y="799.90"/>
<use href="#pl" x="1555.73" y="799.90"/>
<use href="#pl" x="1565.95" y="799.90"/>
<use href="#pl" x="1576.18" y="799.90"/>
<use href="#pl" x="1586.40" y="799.90"/>
<use href="#pl" x="1596.62" y="799.90"/>
<use href="#pl" x="1606.84" y="799.90"/>
<use href="#pl" x="1618.34" y="799.90"/>
<use href="#pl" x="1628.57" y="799.90"/>
<use href="#pl" x="1638.79" y="799.90"/>
<use href="#pl" x="1649.01" y="799.90"/>
<use href="#pl" x="1659.23" y="799.90"/>
<use href="#pl" x="1669.45" y="799.90"/>
<use href="#pl" x="1679.68" y="799.90"/>
<use href="#pl" x="1689.90" y="799.90"/>
<use href="#pl" x="1700.12" y="799.90"/>
<use href="#pl" x="1710.34" y="799.90"/>
<use href="#pl" x="1720.57" y="799.90"/>
<use href="#pl" x="1730.79" y="799.90"/>
<use href="#pl" x="1741.01" y="799.90"/>
<use href="#pl" x="1751.23" y="799.90"/>
<use href="#pl" x="1761.46" y="799.90"/>
<use href="#pl" x="1771.68" y="414.21"/>
<use href="#pl" x="1781.90" y="799.90"/>
<use href="#pl" x="1792.12" y="381.23"/>
<use href="#pl" x="1802.35" y="362.29"/>
<use href="#pl" x="1812.57" y="799.90"/>
<use href="#pl" x="1822.79" y="320.23"/>
<use href="#pl" x="1833.01" y="799.90"/>
<use href="#pl" x="1843.24" y="799.90"/>
<use href="#pl" x="1853.46" y="799.90"/>
<use href="#pl" x="1863.68" y="216.70"/>
<use href="#pl" x="1873.90" y="185.82"/>
<use href="#pl" x="1884.12" y="799.90"/>
<use href="#pl" x="1894.35" y="114.72"/>
<use href="#pl" x="1904.57" y="799.90"/>
<use href="#pl" x="1914.79" y="799.90"/>
<use href="#pl" x="1982.00" y="799.90"/>
</g>
<rect x="1237.1" y="573.1" width="478.8" height="150.6" fill="#fff" stroke="#262626" stroke-width="4"/>
<path d="M1245.8 601H1339" stroke="#000" stroke-width="4"/>
<use href="#tri" x="1292.6" y="601"/>
<path d="M1245.8 648H1339" stroke="#00f" stroke-width="4"/><circle cx="1292.6" cy="648" r="8" fill="#00f"/>
<path d="M1245.8 695.6H1339M1292.6 678.8V711.8" stroke="#f00" stroke-width="4"/>
<text transform="matrix(0.20312 0 0 0.21527 1346.68 616.40)" font-size="200" font-family="'Liberation Serif', serif" fill="#000" stroke="#000" stroke-width="4.78">NFEM</text>
<text transform="matrix(0.21812 0 0 0.21527 1472.63 616.40)" font-size="200" font-family="'Liberation Serif', serif" fill="#000" stroke="#000" stroke-width="4.61">in</text>
<text transform="matrix(0.24179 0 0 0.21527 1518.82 616.40)" font-size="200" font-family="'Liberation Serif', serif" fill="#000" stroke="#000" stroke-width="4.38">this</text>
<text transform="matrix(0.24151 0 0 0.21527 1598.97 616.40)" font-size="200" font-family="'Liberation Serif', serif" fill="#000" stroke="#000" stroke-width="4.38">study</text>
<text transform="matrix(0.19282 0 0 0.21756 1345.39 663.50)" font-size="200" font-family="'Liberation Serif', serif" fill="#000" stroke="#000" stroke-width="4.87">SCM</text>
<text transform="matrix(0.22837 0 0 0.21374 1346.53 711.00)" font-size="200" font-family="'Liberation Serif', serif" fill="#000" stroke="#000" stroke-width="4.52">Difference</text>
<text transform="matrix(0.26890 0 0 0.24148 89.88 100.12)" font-size="200" font-family="'Liberation Serif', serif" fill="#0072BD" stroke="#0072BD" stroke-width="4.70">300</text>
<text transform="matrix(0.26890 0 0 0.24148 89.88 219.60)" font-size="200" font-family="'Liberation Serif', serif" fill="#0072BD" stroke="#0072BD" stroke-width="4.70">250</text>
<text transform="matrix(0.26749 0 0 0.24148 90.29 339.08)" font-size="200" font-family="'Liberation Serif', serif" fill="#0072BD" stroke="#0072BD" stroke-width="4.72">200</text>
<text transform="matrix(0.26873 0 0 0.24148 89.93 458.57)" font-size="200" font-family="'Liberation Serif', serif" fill="#0072BD" stroke="#0072BD" stroke-width="4.70">150</text>
<text transform="matrix(0.26873 0 0 0.24148 89.93 578.05)" font-size="200" font-family="'Liberation Serif', serif" fill="#0072BD" stroke="#0072BD" stroke-width="4.70">100</text>
<text transform="matrix(0.26722 0 0 0.24148 117.09 697.53)" font-size="200" font-family="'Liberation Serif', serif" fill="#0072BD" stroke="#0072BD" stroke-width="4.72">50</text>
<text transform="matrix(0.23571 0 0 0.24148 146.71 817.02)" font-size="200" font-family="'Liberation Serif', serif" fill="#0072BD" stroke="#0072BD" stroke-width="5.03">0</text>
<text transform="matrix(0.26659 0 0 0.24370 383.03 858.71)" font-size="200" font-family="'Liberation Serif', serif" fill="#262626" stroke="#262626" stroke-width="4.70">-1000</text>
<text transform="matrix(0.26648 0 0 0.24370 715.73 858.71)" font-size="200" font-family="'Liberation Serif', serif" fill="#262626" stroke="#262626" stroke-width="4.70">-500</text>
<text transform="matrix(0.24643 0 0 0.24370 1072.93 858.71)" font-size="200" font-family="'Liberation Serif', serif" fill="#262626" stroke="#262626" stroke-width="4.90">0</text>
<text transform="matrix(0.27321 0 0 0.24370 1362.32 858.71)" font-size="200" font-family="'Liberation Serif', serif" fill="#262626" stroke="#262626" stroke-width="4.64">500</text>
<text transform="matrix(0.27387 0 0 0.24370 1667.84 858.71)" font-size="200" font-family="'Liberation Serif', serif" fill="#262626" stroke="#262626" stroke-width="4.64">1000</text>
<text transform="matrix(0.23929 0 0 0.23926 2000.19 816.92)" font-size="200" font-family="'Liberation Serif', serif" fill="#D95319" stroke="#D95319" stroke-width="5.02">0</text>
<text transform="matrix(0.24719 0 0 0.23926 2000.12 697.44)" font-size="200" font-family="'Liberation Serif', serif" fill="#D95319" stroke="#D95319" stroke-width="4.93">0.2</text>
<text transform="matrix(0.24603 0 0 0.23926 2000.13 577.95)" font-size="200" font-family="'Liberation Serif', serif" fill="#D95319" stroke="#D95319" stroke-width="4.95">0.4</text>
<text transform="matrix(0.24534 0 0 0.23926 2000.14 458.47)" font-size="200" font-family="'Liberation Serif', serif" fill="#D95319" stroke="#D95319" stroke-width="4.95">0.6</text>
<text transform="matrix(0.24615 0 0 0.23926 2000.13 338.99)" font-size="200" font-family="'Liberation Serif', serif" fill="#D95319" stroke="#D95319" stroke-width="4.94">0.8</text>
<text transform="matrix(0.25775 0 0 0.23926 1997.72 219.50)" font-size="200" font-family="'Liberation Serif', serif" fill="#D95319" stroke="#D95319" stroke-width="4.83">1</text>
<text transform="matrix(0.25405 0 0 0.23926 1997.78 100.02)" font-size="200" font-family="'Liberation Serif', serif" fill="#D95319" stroke="#D95319" stroke-width="4.87">1.2</text>
<text transform="matrix(0.28642 0 0 0.28148 1984.92 73.72)" font-size="200" font-family="'Liberation Serif', serif" fill="#D95319" stroke="#D95319" stroke-width="4.23">×</text>
<text transform="matrix(0.26629 0 0 0.24222 2021.17 65.72)" font-size="200" font-family="'Liberation Serif', serif" fill="#D95319" stroke="#D95319" stroke-width="4.72">10</text>
<text transform="matrix(0.19803 0 0 0.19328 2076.91 43.21)" font-size="200" font-family="'Liberation Serif', serif" fill="#D95319" stroke="#D95319" stroke-width="6.13">-3</text>
<text transform="rotate(-90) matrix(0.27232 0 0 0.25954 -709.13 2119.10)" font-size="200" font-family="'Liberation Serif', serif" fill="#D95319" stroke="#D95319" stroke-width="3.76">Relative</text>
<text transform="rotate(-90) matrix(0.28361 0 0 0.26099 -511.29 2118.98)" font-size="200" font-family="'Liberation Serif', serif" fill="#D95319" stroke="#D95319" stroke-width="3.67">difference</text>
<text transform="rotate(-90) matrix(0.29608 0 0 0.26813 -267.26 2119.77)" font-size="200" font-family="'Liberation Serif', serif" fill="#D95319" stroke="#D95319" stroke-width="3.54">(</text>
<text transform="rotate(-90) matrix(0.22484 0 0 0.27426 -238.07 2121.68)" font-size="200" font-family="'Liberation Serif', serif" fill="#D95319" stroke="#D95319" stroke-width="4.01">%</text>
<text transform="rotate(-90) matrix(0.31923 0 0 0.26813 -200.32 2119.77)" font-size="200" font-family="'Liberation Serif', serif" fill="#D95319" stroke="#D95319" stroke-width="3.41">)</text>
<text transform="matrix(0.30000 0 0 0.27065 1019.30 915.50)" font-size="200" font-family="'Liberation Serif', serif" font-style="italic" fill="#262626" stroke="#262626" stroke-width="3.50">x</text>
<text transform="matrix(0.27451 0 0 0.29066 1068.13 915.70)" font-size="200" font-family="'Liberation Serif', serif" fill="#262626" stroke="#262626" stroke-width="2.12">(</text>
<text transform="matrix(0.28859 0 0 0.26489 1086.55 915.50)" font-size="200" font-family="'Liberation Serif', serif" fill="#262626" stroke="#262626" stroke-width="3.61">m</text>
<text transform="matrix(0.26923 0 0 0.29066 1133.28 915.70)" font-size="200" font-family="'Liberation Serif', serif" fill="#262626" stroke="#262626" stroke-width="2.14">)</text>
<text transform="rotate(-90) matrix(0.23396 0 0 0.25778 -503.02 60.32)" font-size="200" font-family="'Liberation Serif', serif" font-style="italic" fill="#0072BD" stroke="#0072BD" stroke-width="4.07">y</text>
<text transform="rotate(-90) matrix(0.24118 0 0 0.29945 -458.57 61.72)" font-size="200" font-family="'Liberation Serif', serif" fill="#0072BD" stroke="#0072BD" stroke-width="2.22">(</text>
<text transform="rotate(-90) matrix(0.28792 0 0 0.24574 -441.05 59.70)" font-size="200" font-family="'Liberation Serif', serif" fill="#0072BD" stroke="#0072BD" stroke-width="3.75">m</text>
<text transform="rotate(-90) matrix(0.23654 0 0 0.29945 -393.32 61.72)" font-size="200" font-family="'Liberation Serif', serif" fill="#0072BD" stroke="#0072BD" stroke-width="2.24">)</text>
<text transform="matrix(0.34118 0 0 0.37692 1035.13 1013.09)" font-size="200" font-family="'Liberation Serif', serif" fill="#000">(</text>
<text transform="matrix(0.35824 0 0 0.37500 1060.25 1012.25)" font-size="200" font-family="'Liberation Serif', serif" font-weight="bold" fill="#000">a</text>
<text transform="matrix(0.33846 0 0 0.37692 1097.97 1013.09)" font-size="200" font-family="'Liberation Serif', serif" fill="#000">)</text>
</svg>
</body></html>
